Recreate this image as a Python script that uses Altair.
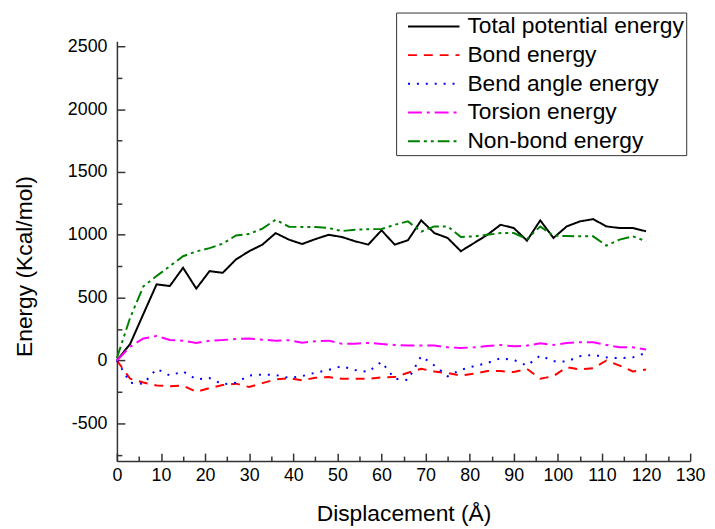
import altair as alt
import pandas as pd

# ---- data ----
displacement = [0, 3, 6, 9, 12, 15, 18, 21, 24, 27, 30, 33, 36, 39, 42, 45, 48, 51, 54, 57,
                60, 63, 66, 69, 72, 75, 78, 81, 84, 87, 90, 93, 96, 99, 102, 105, 108, 111,
                114, 117, 120]

total_energy = [0, 132, 370, 606, 593, 738, 572, 711, 698, 804, 870, 922, 1014, 962, 927,
                966, 1000, 983, 949, 922, 1036, 922, 957, 1115, 1014, 975, 870, 935, 1000,
                1080, 1054, 954, 1115, 975, 1067, 1107, 1125, 1067, 1054, 1054, 1028]

bond_energy = [0, -145, -175, -198, -205, -200, -250, -219, -195, -184, -211, -180, -150,
               -140, -158, -137, -132, -145, -145, -145, -135, -132, -97, -66, -87, -100,
               -119, -105, -84, -84, -92, -66, -145, -124, -53, -71, -61, 0, -40, -87, -71]

bend_energy = [0, -177, -185, -66, -119, -87, -150, -140, -190, -177, -119, -112, -115,
               -138, -124, -97, -75, -45, -75, -90, -10, -145, -155, 35, -40, -125, -74,
               -45, -20, 18, 5, -40, 40, -5, -8, 34, 45, 25, 18, 25, 61]

torsion_energy = [0, 110, 175, 195, 163, 158, 140, 158, 163, 171, 176, 166, 158, 161, 142,
                  153, 158, 134, 134, 140, 132, 124, 119, 119, 119, 105, 100, 105, 115, 124,
                  113, 119, 137, 124, 140, 145, 145, 124, 105, 105, 87]

nonbond_energy = [20, 340, 590, 672, 751, 830, 868, 894, 930, 995, 1007, 1050, 1120, 1065,
                  1062, 1062, 1054, 1030, 1040, 1045, 1046, 1080, 1107, 1025, 1067, 1067,
                  983, 988, 1000, 1014, 1014, 967, 1067, 993, 990, 988, 988, 914, 962, 988,
                  949]

series_names = ["Total potential energy", "Bond energy", "Bend angle energy",
                "Torsion energy", "Non-bond energy"]
series_values = [total_energy, bond_energy, bend_energy, torsion_energy, nonbond_energy]

x_major = [0, 10, 20, 30, 40, 50, 60, 70, 80, 90, 100, 110, 120, 130]
x_minor = [5, 15, 25, 35, 45, 55, 65, 75, 85, 95, 105, 115, 125]
y_major = [-500, 0, 500, 1000, 1500, 2000, 2500]
y_minor = [-750, -250, 250, 750, 1250, 1750, 2250]

# ---- styles ----
colors = ["#000000", "#ff0000", "#0000ff", "#ff00ff", "#008000"]
dashes = [[1, 0], [9, 7], [2, 7], [14, 5, 3, 5], [12, 4, 3, 4, 3, 4]]
W, H = 579, 424
FONT = "Liberation Sans"
AXC = "#333333"

rows = []
for name, vals in zip(series_names, series_values):
    for xv, v in zip(displacement, vals):
        rows.append({"x": xv, "energy": v, "series": name})
df = pd.DataFrame(rows)

xscale = alt.Scale(domain=[0, 130], nice=False, zero=False)
yscale = alt.Scale(domain=[-800, 2540], nice=False, zero=False)

legend = alt.Legend(
    title=None, orient="none", legendX=282, legendY=-29,
    symbolType="stroke", symbolSize=2704, symbolStrokeWidth=2,
    labelFont=FONT, labelFontSize=23, labelColor="black", labelOffset=7,
    labelLimit=400, padding=2, symbolOffset=9, rowPadding=5, clipHeight=24,
    strokeColor=AXC, fillColor="white", cornerRadius=0,
)

lines = alt.Chart(df).mark_line(strokeWidth=2).encode(
    x=alt.X("x:Q", scale=xscale, axis=alt.Axis(
        orient="bottom", values=x_major, ticks=False, grid=False,
        domain=True, domainColor=AXC, domainWidth=1.5,
        labelFont=FONT, labelFontSize=18, labelColor="black", labelPadding=6,
        labelFlush=False, labelOverlap=False, labelExpr="'' + datum.value",
        title="Displacement (Å)", titleFont=FONT, titleFontSize=23,
        titleFontWeight="normal", titleColor="black",
        titleX=W / 2, titleY=60, titleBaseline="alphabetic", titleAlign="center")),
    y=alt.Y("energy:Q", scale=yscale, axis=alt.Axis(
        orient="left", values=y_major, ticks=False, grid=False,
        domain=True, domainColor=AXC, domainWidth=1.5,
        labelFont=FONT, labelFontSize=18, labelColor="black", labelPadding=10,
        labelOverlap=False, labelExpr="'' + datum.value",
        title="Energy (Kcal/mol)", titleFont=FONT, titleFontSize=23,
        titleFontWeight="normal", titleColor="black", titleAngle=270,
        titleX=-86, titleY=227, titleBaseline="alphabetic", titleAlign="center")),
    color=alt.Color("series:N", scale=alt.Scale(domain=series_names, range=colors),
                    legend=legend),
    strokeDash=alt.StrokeDash("series:N", scale=alt.Scale(domain=series_names, range=dashes),
                              legend=legend),
)


def tick_layer(xv, yv, size):
    return alt.Chart(df).mark_point(opacity=0).encode(
        x=alt.X("x:Q", scale=xscale, axis=alt.Axis(
            orient="top", offset=-H, values=xv, labels=False, domain=False,
            ticks=True, tickSize=size, tickColor=AXC, tickWidth=1.5, grid=False,
            title=None)),
        y=alt.Y("energy:Q", scale=yscale, axis=alt.Axis(
            orient="right", offset=-W, values=yv, labels=False, domain=False,
            ticks=True, tickSize=size, tickColor=AXC, tickWidth=1.5, grid=False,
            title=None)),
    )


chart = alt.layer(
    lines, tick_layer(x_major, y_major, 8), tick_layer(x_minor, y_minor, 5)
).resolve_axis(x="independent", y="independent").properties(
    width=W, height=H,
    padding={"left": 110, "top": 31, "right": 17, "bottom": 65},
    autosize=alt.AutoSizeParams(type="none"),
).configure_view(stroke=None)

chart.save("out.html", embed_options={"renderer": "svg", "actions": False})
